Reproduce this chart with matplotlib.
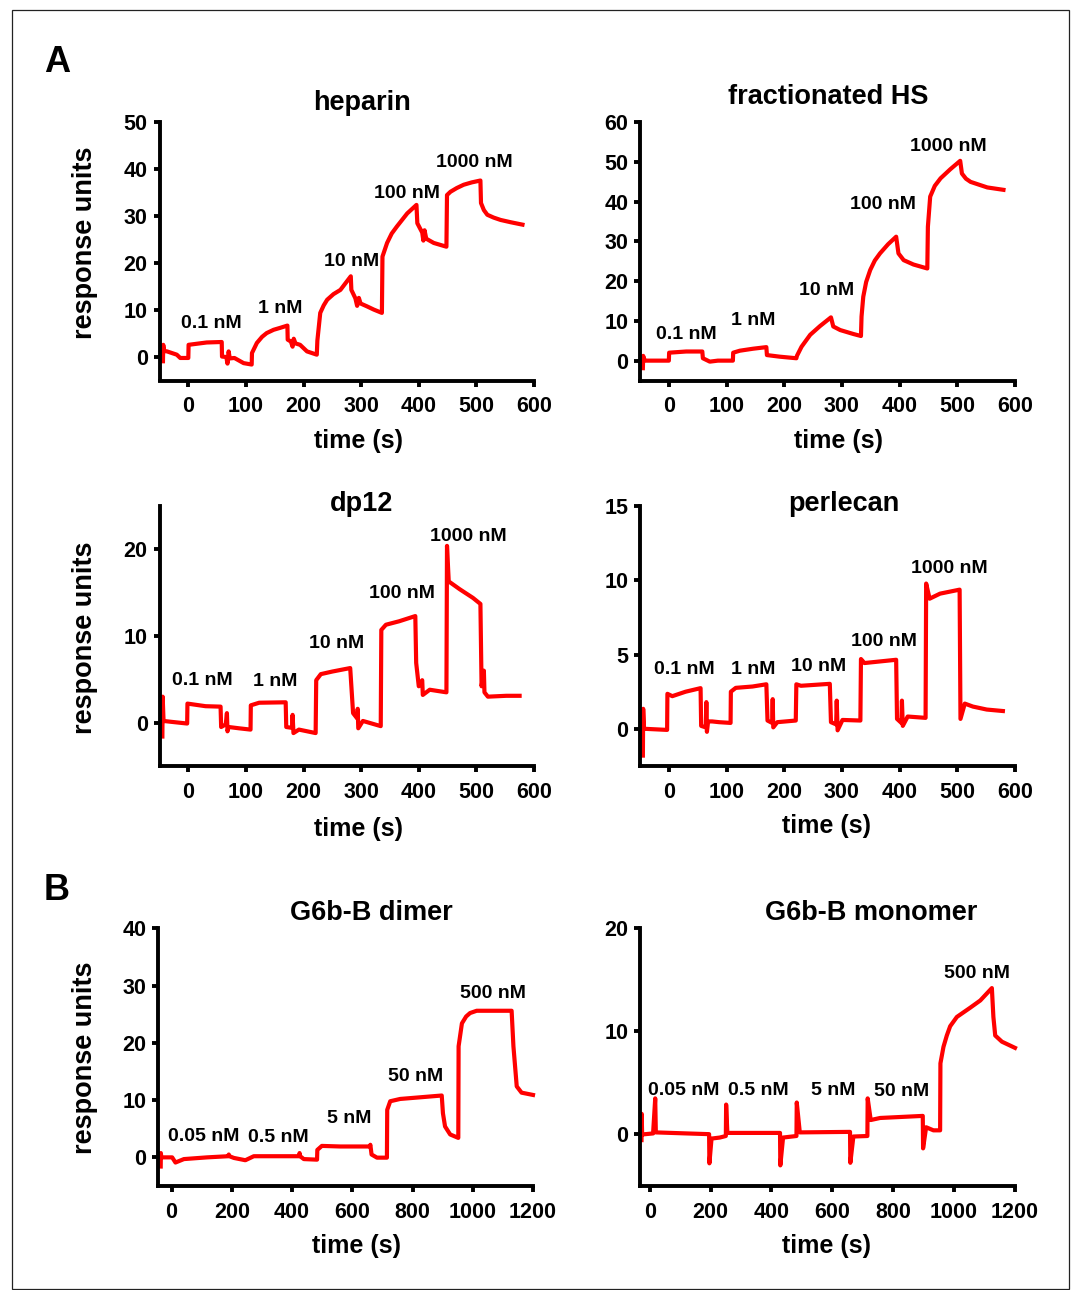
import matplotlib
matplotlib.use('Agg')
import matplotlib.pyplot as plt
from matplotlib.patches import Rectangle

plt.rcParams.update({'font.family'       : ['Liberation Sans', 'DejaVu Sans'],
                     'font.weight'       : 'bold',
                     'font.size'         : 15,
                     'axes.linewidth'    : 2.8,
                     'xtick.major.width' : 2.8,
                     'ytick.major.width' : 2.8,
                     'xtick.major.size'  : 4.5,
                     'ytick.major.size'  : 4.5,
                     'xtick.major.pad'   : 7,
                     'ytick.major.pad'   : 4,
                    })

W, H = 1078, 1290
RED = '#ff0000'

### DATA
# heparin
hep_t = [-44, -43.5, -42, -37, -20, -14, 0, 0.5, 32, 58, 58.5, 66, 68, 70, 72, 80, 96, 110,
         110.5, 119, 128, 136, 148, 159, 172, 172.5, 178, 181, 183, 186, 194, 206, 223,
         224, 229, 235, 241, 252, 264, 282, 283, 290, 293, 296, 299, 310, 322, 336,
         337, 345, 353, 362, 380, 396, 397.5, 406, 408, 410, 413, 426, 448,
         449, 455, 466, 478, 492, 507, 508, 513, 519, 530, 542, 560, 580]
hep_y = [-0.9, 2.6, 1.3, 1.2, 0.5, -0.2, -0.2, 2.6, 3.1, 3.2, 0.1, 0.0, -1.4, 1.2, -0.3, -0.2, -1.3, -1.6,
         0.85, 3.0, 4.3, 5.1, 5.8, 6.2, 6.7, 3.7, 3.3, 2.2, 3.9, 2.9, 2.6, 1.2, 0.5,
         3.5, 9.4, 11.0, 12.2, 13.4, 14.3, 17.2, 14.3, 12.5, 10.9, 12.6, 11.4, 10.8, 10.1, 9.4,
         21.4, 24.3, 26.3, 27.8, 30.6, 32.4, 28.5, 26.5, 24.8, 27.0, 25.2, 24.3, 23.5,
         34.5, 35.2, 36.0, 36.7, 37.2, 37.6, 32.8, 31.3, 30.3, 29.7, 29.2, 28.7, 28.2]
hep_lab = ['0.1 nM', '1 nM', '10 nM', '100 nM', '1000 nM']
hep_lab_t = [40, 160, 283, 379, 497]
hep_lab_y = [7.2, 10.4, 20.4, 34.9, 41.5]

# fractionated HS
fhs_t = [-45, -44.5, -42, -39, 0, 0.5, 30, 58, 59, 71, 85, 111, 111.5, 123, 146, 169, 170, 192, 221,
         222, 230, 245, 262, 281, 285, 297, 320, 333, 334, 337, 342, 349, 357, 366, 380, 394,
         398, 407, 424, 448, 449, 453, 461, 471, 488, 505, 508, 515, 523, 552, 580]
fhs_y = [-1.9, 1.2, 0.0, 0.0, 0.0, 2.0, 2.3, 2.3, 0.6, -0.25, 0.0, 0.0, 2.0, 2.5, 3.0, 3.4, 1.4, 1.0, 0.6,
         1.2, 3.5, 6.5, 8.7, 10.9, 8.6, 7.7, 6.7, 6.2, 11.1, 16.1, 19.8, 22.8, 25.2, 27.0, 29.3, 31.2,
         27.0, 25.3, 24.2, 23.2, 33.7, 41.3, 44.0, 45.9, 48.2, 50.3, 47.1, 45.8, 45.0, 43.6, 43.0]
fhs_lab = ['0.1 nM', '1 nM', '10 nM', '100 nM', '1000 nM']
fhs_lab_t = [31, 147, 274, 371, 484]
fhs_lab_y = [6.7, 10.0, 17.6, 39.4, 54.0]

# dp12
dp_t = [-45, -44.5, -43, -30, -2, -1.5, 30, 56, 57, 65, 67, 68, 70, 88, 108, 108.5, 123, 169,
        170, 180, 181, 182.5, 192, 221, 222, 230, 250, 281, 286, 293, 294, 295, 303, 334,
        335, 343, 366, 394, 395.5, 400, 406, 407, 419, 448, 449, 452, 471, 494, 507,
        509, 513, 514, 520, 552, 575]
dp_y = [-1.6, 3.0, 0.2, 0.1, -0.1, 2.2, 1.9, 1.85, -0.5, -0.2, 1.1, -1.0, -0.5, -0.65, -0.8, 2.0, 2.3, 2.35,
        -0.5, -0.6, 0.9, -1.2, -0.8, -1.2, 4.9, 5.6, 5.9, 6.3, 1.1, 0.5, 1.6, -0.65, 0.2, -0.4,
        10.7, 11.3, 11.7, 12.3, 6.9, 4.2, 4.9, 3.2, 3.8, 3.5, 20.4, 16.3, 15.4, 14.4, 13.7,
        4.2, 6.0, 3.5, 3.0, 3.1, 3.1]
dp_lab = ['0.1 nM', '1 nM', '10 nM', '100 nM', '1000 nM']
dp_lab_t = [24, 151, 257, 371, 486]
dp_lab_y = [4.9, 4.8, 9.1, 14.9, 21.5]

# perlecan
per_t = [-45, -44.5, -43, -40, -3, -2.5, 6, 29, 55, 56, 64, 65, 66, 68, 75, 87, 107,
         107.5, 116, 145, 169, 171, 179, 180, 181, 188, 220, 221, 229, 279,
         281, 290, 291, 292.5, 301, 332, 333, 339, 394, 395.5, 403, 404, 405.5, 414, 445,
         446, 452, 470, 504, 505.5, 513, 527, 551, 579]
per_y = [-1.8, 1.35, 0.0, 0.0, -0.07, 2.36, 2.2, 2.5, 2.74, 0.2, 0.1, 1.8, -0.2, 0.5, 0.5, 0.45, 0.4,
         2.5, 2.76, 2.85, 3.0, 0.56, 0.4, 2.0, 0.1, 0.45, 0.56, 3.0, 2.9, 3.03,
         0.45, 0.3, 1.9, -0.1, 0.6, 0.56, 4.7, 4.43, 4.65, 0.67, 0.4, 1.9, 0.2, 0.83, 0.74,
         9.78, 8.76, 9.1, 9.37, 0.67, 1.7, 1.5, 1.3, 1.2]
per_lab = ['0.1 nM', '1 nM', '10 nM', '100 nM', '1000 nM']
per_lab_t = [26, 146, 259, 372, 487]
per_lab_y = [4.0, 4.0, 4.2, 5.9, 10.8]

# G6b-B dimer
dim_t = [-36, -35.5, -34, 2, 13, 41, 118, 188, 190, 192, 207, 245, 273, 339, 423, 425, 427, 439, 483,
         484, 499, 560, 658, 660, 664, 682, 715, 716, 726, 759, 897, 901, 908, 925, 952,
         953, 964, 978, 991, 1013, 1129, 1135, 1146, 1162, 1200]
dim_y = [-1.6, 0.75, 0.0, 0.0, -0.9, -0.3, 0.0, 0.2, 0.5, 0.2, -0.1, -0.5, 0.2, 0.2, 0.2, 0.75, 0.2, -0.3, -0.4,
         1.3, 2.0, 1.9, 1.9, 2.2, 0.5, -0.05, -0.05, 8.3, 9.8, 10.2, 10.8, 7.7, 5.4, 4.0, 3.4,
         19.4, 23.4, 24.6, 25.2, 25.6, 25.6, 19.4, 12.4, 11.3, 10.9]
dim_lab = ['0.05 nM', '0.5 nM', '5 nM', '50 nM', '500 nM']
dim_lab_t = [108, 355, 590, 809, 1067]
dim_lab_y = [3.6, 3.4, 6.7, 14.2, 28.6]

# G6b-B monomer
mon_t = [-27, -26.5, -25, 11, 18, 20, 121, 195, 196, 203, 230, 250, 251, 255, 340, 428,
         429, 438, 482, 483, 493, 658, 659, 669, 715, 716, 726, 757, 897, 898, 908, 932, 954,
         955, 965, 976, 987, 1009, 1053, 1086, 1124, 1129, 1135, 1157, 1200]
mon_y = [-0.55, 2.0, 0.0, 0.1, 3.5, 0.2, 0.1, 0.03, -2.8, -0.4, -0.3, -0.15, 2.9, 0.15, 0.15, 0.15,
         -3.0, -0.3, -0.15, 3.1, 0.2, 0.25, -2.75, -0.2, -0.15, 3.5, 1.4, 1.6, 1.8, -1.35, 0.7, 0.4, 0.4,
         6.9, 8.5, 9.6, 10.5, 11.4, 12.3, 13.0, 14.2, 11.4, 9.6, 9.0, 8.4]
mon_lab = ['0.05 nM', '0.5 nM', '5 nM', '50 nM', '500 nM']
mon_lab_t = [110, 358, 602, 826, 1076]
mon_lab_y = [4.3, 4.3, 4.3, 4.2, 15.6]


def px_axes(fig, left, top, right, bottom):
    # axes from pixel box of the reference
    return fig.add_axes([left/W, 1-bottom/H, (right-left)/W, (bottom-top)/H])

def ftext(fig, x, y, s, **kw):
    fig.text(x/W, 1-y/H, s, ha='center', va='center', **kw)

def panel(ax, t, y, labs, lt, ly, xlim, ylim, yticks, xticks):
    ax.plot(t, y, color=RED, lw=3.0, solid_joinstyle='round', clip_on=False)
    for s, a, b in zip(labs, lt, ly):
        ax.text(a, b, s, ha='center', va='center', fontsize=14, fontweight='bold')
    ax.set_xlim(*xlim)
    ax.set_ylim(*ylim)
    ax.set_yticks(yticks)
    ax.set_xticks(xticks)
    ax.spines['top'].set_visible(False)
    ax.spines['right'].set_visible(False)
    ax.tick_params(labelsize=15.5)


fig = plt.figure(figsize=(W/100, H/100), dpi=100)

xt6 = [0, 100, 200, 300, 400, 500, 600]
xt12 = [0, 200, 400, 600, 800, 1000, 1200]

ax = px_axes(fig, 159.5, 122.3, 534, 380.5)
panel(ax, hep_t, hep_y, hep_lab, hep_lab_t, hep_lab_y, (-50, 600), (-5, 50), range(0, 51, 10), xt6)
ax = px_axes(fig, 640, 122.3, 1015, 380.5)
panel(ax, fhs_t, fhs_y, fhs_lab, fhs_lab_t, fhs_lab_y, (-50, 600), (-5, 60), range(0, 61, 10), xt6)
ax = px_axes(fig, 159.5, 506, 534, 766)
panel(ax, dp_t, dp_y, dp_lab, dp_lab_t, dp_lab_y, (-50, 600), (-5, 25), [0, 10, 20], xt6)
ax = px_axes(fig, 640, 506, 1015, 766)
panel(ax, per_t, per_y, per_lab, per_lab_t, per_lab_y, (-50, 600), (-2.5, 15), [0, 5, 10, 15], xt6)
ax = px_axes(fig, 158, 928.3, 533, 1186)
panel(ax, dim_t, dim_y, dim_lab, dim_lab_t, dim_lab_y, (-45, 1200), (-5, 40), range(0, 41, 10), xt12)
ax = px_axes(fig, 640, 928.3, 1015, 1186)
panel(ax, mon_t, mon_y, mon_lab, mon_lab_t, mon_lab_y, (-32, 1200), (-5, 20), [0, 10, 20], xt12)

# titles
ftext(fig, 362, 103, 'heparin', fontsize=19.5, fontweight='bold')
ftext(fig, 828, 97, 'fractionated HS', fontsize=19.5, fontweight='bold')
ftext(fig, 362, 504, 'dp12', fontsize=19.5, fontweight='bold')
ftext(fig, 844, 504, 'perlecan', fontsize=19.5, fontweight='bold')
ftext(fig, 371, 913, 'G6b-B dimer', fontsize=19.5, fontweight='bold')
ftext(fig, 871, 913, 'G6b-B monomer', fontsize=19.5, fontweight='bold')

# axis labels
for x, y in [(358, 441), (838, 441), (358, 829), (826, 826), (357, 1246), (826, 1246)]:
    ftext(fig, x, y, 'time (s)', fontsize=18, fontweight='bold')
for y in [243, 638, 1058]:
    ftext(fig, 85, y, 'response units', fontsize=19.5, fontweight='bold', rotation=90)

ftext(fig, 57, 62, 'A', fontsize=26, fontweight='bold')
ftext(fig, 57, 890, 'B', fontsize=26, fontweight='bold')

# thin frame round the figure
fig.patches.append(Rectangle((11.5/W, 1-1289/H), (1069-11.5)/W, (1289-9.5)/H,
                             transform=fig.transFigure, fill=False, lw=0.9, ec='#222222'))

fig.savefig('out.png', dpi=100)
